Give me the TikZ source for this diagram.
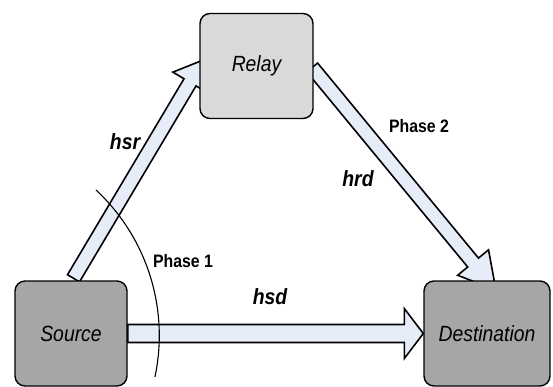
\documentclass[tikz,border=0pt]{standalone}
\usepackage{fontspec}
\setmainfont{Liberation Sans}
\newfontfamily\narrowsf[FakeStretch=0.88]{Liberation Sans}
\usepackage{xcolor}
\usetikzlibrary{calc, backgrounds}

\definecolor{relaygray}{HTML}{D9D9D9}
\definecolor{endgray}{HTML}{A6A6A6}
\definecolor{flowfill}{HTML}{E6ECF8}

\begin{document}
\begin{tikzpicture}[
    x=1pt, y=-1pt,
    station/.style={draw, line width=1.4pt, rounded corners=10pt, minimum height=105pt, inner sep=0pt, font=\narrowsf\itshape\fontsize{22}{26}\selectfont},
    gain/.style={font=\narrowsf\bfseries\itshape\fontsize{22}{26}\selectfont},
    phase/.style={font=\narrowsf\bfseries\fontsize{18}{22}\selectfont},
    flow/.style={draw, line width=1.6pt, fill=flowfill, line join=miter},
    phasearc/.style={line width=1.1pt}
]
\useasboundingbox (0,0) rectangle (553,386);
\clip (0,0) rectangle (553,386);

% Nodes
\node[station, fill=relaygray, minimum width=113pt] (relay) at (256.5, 66) {Relay};
\node[station, fill=endgray, minimum width=112pt] (source) at (71, 333.5) {Source};
\node[station, fill=endgray, minimum width=126pt] (dest) at (487, 333.5) {Destination};

% Arrow ends
\coordinate (sr-tail) at ($(source.north)+(2.5,-2)$);
\coordinate (sr-tip) at ($(relay.west)+(4,-6)$);
\coordinate (rd-tail) at ($(relay.east)+(-1.5,1.5)$);
\coordinate (rd-tip) at ($(dest.north)+(9,10)$);

% Block arrows
\begin{scope}[on background layer]
\foreach \a/\b/\sw/\hw/\hl in {sr-tail/sr-tip/7pt/20pt/26pt, rd-tail/rd-tip/7pt/20pt/36pt, source.east/dest.west/9pt/25pt/19pt}{
  \coordinate (hb) at ($(\b)!\hl!(\a)$);
  \draw[flow] ($(\a)!\sw!90:(\b)$) -- ($(hb)!\sw!90:(\b)$) -- ($(hb)!\hw!90:(\b)$) -- (\b)
     -- ($(hb)!\hw!-90:(\b)$) -- ($(hb)!\sw!-90:(\b)$) -- ($(\a)!\sw!-90:(\b)$) -- cycle;
}
\end{scope}

% Phase 1 arc
\coordinate (ph1) at (96, 190);
\draw[phasearc] (ph1) arc[start angle=47, end angle=-12, radius=199pt];

% Labels
\node[gain] (hsr) at (125, 142) {hsr};
\node[gain] (hrd) at (358, 179) {hrd};
\node[gain] (hsd) at (270, 297) {hsd};
\node[phase] (p1) at (183, 261) {Phase 1};
\node[phase] (p2) at (419, 126) {Phase 2};

\end{tikzpicture}
\end{document}
